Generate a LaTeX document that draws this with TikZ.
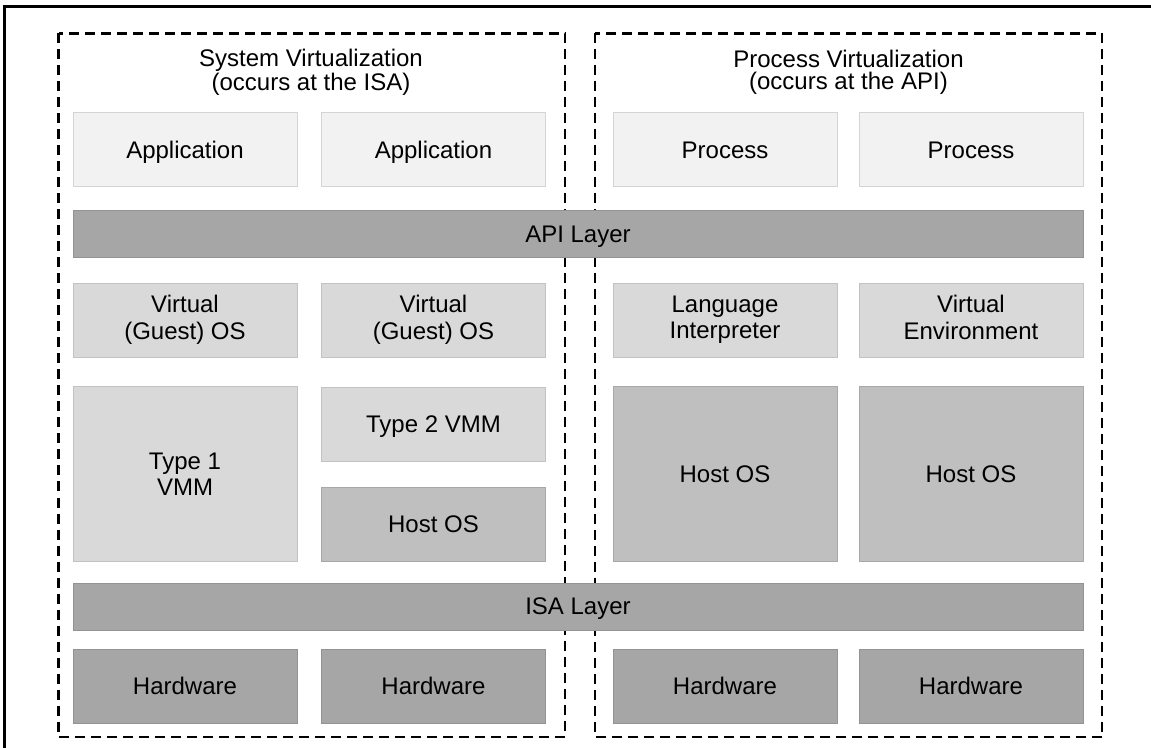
\documentclass[tikz,border=0pt]{standalone}
\usepackage{fontspec}
\setmainfont{Liberation Sans}
\begin{document}
\begin{tikzpicture}[x=0.5pt,y=-0.5pt,
  every node/.style={font=\fontsize{12pt}{13.2pt}\selectfont, text=black},
  block/.style={rectangle, inner sep=0pt, align=center, line width=0.5pt, text depth=0pt},
  appbox/.style={block, fill=appfill, draw=appline},
  osbox/.style={block, fill=osfill, draw=osline},
  hostbox/.style={block, fill=hostfill, draw=hostline},
  layerbox/.style={block, fill=layerfill, draw=layerline},
  colbox/.style={minimum width=112pt},
  lowbox/.style={minimum height=37pt},
  thinbox/.style={minimum height=23.5pt},
  twoline/.style={text depth=3.5pt},
  region/.style={draw=black, line width=1.45pt, dash pattern=on 5pt off 3pt},
  title/.style={align=center, font=\fontsize{12pt}{11pt}\selectfont}
]
\definecolor{appfill}{HTML}{F2F2F2}
\definecolor{appline}{HTML}{D4D4D4}
\definecolor{osfill}{HTML}{D9D9D9}
\definecolor{osline}{HTML}{C2C2C2}
\definecolor{hostfill}{HTML}{BFBFBF}
\definecolor{hostline}{HTML}{A8A8A8}
\definecolor{layerfill}{HTML}{A6A6A6}
\definecolor{layerline}{HTML}{939393}

\useasboundingbox (0,0) rectangle (1151,748);
\clip (0,0) rectangle (1151,748);

% outer frame (open towards the right and bottom)
\draw[line width=1.5pt] (4.5,6.5) rectangle (1170,770);

% the two dashed regions
\draw[region] (58.5,33.5) rectangle (565,737);
\draw[region] (595,33.5) rectangle (1102,737);

% region titles
\node[title] (systitle) at (311,72.5) {System Virtualization\\(occurs at the ISA)};
\node[title] (proctitle) at (848.5,72.5) {Process Virtualization\\(occurs at the API)};

% top row
\node[appbox, colbox, lowbox] (app1) at (185,150) {Application};
\node[appbox, colbox, lowbox] (app2) at (433.5,150) {Application};
\node[appbox, colbox, lowbox] (proc1) at (725,150) {Process};
\node[appbox, colbox, lowbox] (proc2) at (971,150) {Process};

% API layer
\node[layerbox, minimum width=505pt, thinbox] (api) at (578,234.5) {API Layer};

% guest systems and runtimes
\node[osbox, colbox, lowbox, twoline] (guest1) at (185,321) {Virtual\\(Guest) OS};
\node[osbox, colbox, lowbox, twoline] (guest2) at (433.5,321) {Virtual\\(Guest) OS};
\node[osbox, colbox, lowbox, twoline] (interp) at (725,321) {Language\\Interpreter};
\node[osbox, colbox, lowbox, twoline] (venv) at (971,321) {Virtual\\Environment};

% monitors and host systems
\node[osbox, colbox, minimum height=87pt] (vmm1) at (185,474) {Type 1\\VMM};
\node[osbox, colbox, lowbox] (vmm2) at (433.5,424.5) {Type 2 VMM};
\node[hostbox, colbox, lowbox] (host1) at (433.5,524) {Host OS};
\node[hostbox, colbox, minimum height=87pt] (host2) at (725,474) {Host OS};
\node[hostbox, colbox, minimum height=87pt] (host3) at (971,474) {Host OS};

% ISA layer
\node[layerbox, minimum width=505pt, thinbox] (isa) at (578,606.5) {ISA Layer};

% hardware row
\node[layerbox, colbox, lowbox] (hw1) at (185,686) {Hardware};
\node[layerbox, colbox, lowbox] (hw2) at (433.5,686) {Hardware};
\node[layerbox, colbox, lowbox] (hw3) at (725,686) {Hardware};
\node[layerbox, colbox, lowbox] (hw4) at (971,686) {Hardware};
\end{tikzpicture}
\end{document}
